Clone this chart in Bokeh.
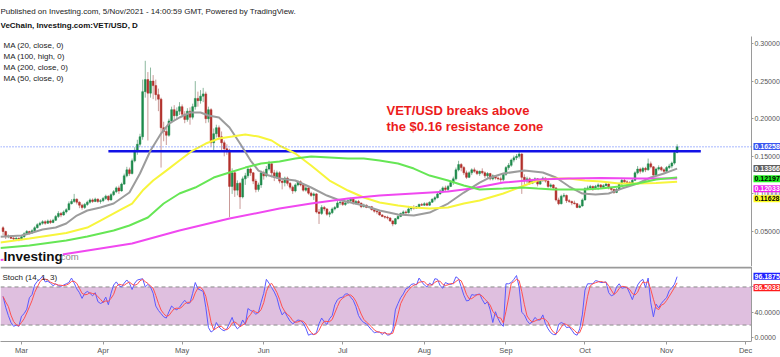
import pandas as pd
from bokeh.plotting import figure
from bokeh.layouts import column
from bokeh.models import (Range1d, FixedTicker, NumeralTickFormatter, Label, Span,
                          BoxAnnotation, MonthsTicker, DatetimeTickFormatter, ColumnDataSource)
from bokeh.embed import file_html
from bokeh.resources import INLINE

# ---------------- data (daily VET/USD, 2021-02-22 .. 2021-11-05) ----------------
first_open = 0.055
close = [
    # Feb 22-28
    0.050, 0.043, 0.044, 0.041, 0.040, 0.041, 0.039,
    # Mar
    0.043, 0.047, 0.050, 0.048, 0.051, 0.055, 0.059, 0.061, 0.063, 0.061,
    0.064, 0.062, 0.065, 0.070, 0.074, 0.072, 0.076, 0.079, 0.087, 0.090,
    0.093, 0.089, 0.085, 0.082, 0.086, 0.089, 0.092, 0.090, 0.093, 0.090, 0.091,
    # Apr
    0.094, 0.097, 0.092, 0.099, 0.103, 0.108, 0.104, 0.113, 0.124, 0.132,
    0.127, 0.144, 0.158, 0.166, 0.176, 0.236, 0.252, 0.234, 0.250, 0.244,
    0.232, 0.226, 0.188, 0.183, 0.178, 0.197, 0.212, 0.204, 0.210, 0.216,
    # May
    0.206, 0.199, 0.210, 0.202, 0.216, 0.227, 0.224, 0.230, 0.233, 0.200,
    0.212, 0.168, 0.180, 0.188, 0.176, 0.168, 0.160, 0.158, 0.110, 0.128,
    0.105, 0.114, 0.096, 0.120, 0.124, 0.133, 0.128, 0.117, 0.106, 0.112, 0.128,
    # Jun
    0.124, 0.133, 0.140, 0.128, 0.122, 0.128, 0.117, 0.115, 0.121, 0.114,
    0.109, 0.104, 0.112, 0.116, 0.112, 0.105, 0.108, 0.101, 0.098, 0.100,
    0.076, 0.074, 0.082, 0.080, 0.073, 0.075, 0.080, 0.082, 0.088, 0.089,
    # Jul
    0.086, 0.088, 0.091, 0.093, 0.087, 0.090, 0.088, 0.083, 0.085, 0.082,
    0.083, 0.079, 0.077, 0.076, 0.072, 0.070, 0.069, 0.068, 0.064, 0.060,
    0.067, 0.070, 0.074, 0.076, 0.075, 0.080, 0.082, 0.081, 0.083, 0.086, 0.085,
    # Aug
    0.087, 0.085, 0.089, 0.093, 0.095, 0.100, 0.104, 0.108, 0.106, 0.110,
    0.115, 0.120, 0.132, 0.139, 0.135, 0.128, 0.122, 0.128, 0.132, 0.130,
    0.127, 0.130, 0.128, 0.124, 0.127, 0.120, 0.124, 0.121, 0.120, 0.119, 0.126,
    # Sep
    0.135, 0.138, 0.145, 0.148, 0.150, 0.153, 0.122, 0.117, 0.120, 0.114,
    0.118, 0.120, 0.113, 0.118, 0.121, 0.117, 0.110, 0.112, 0.108, 0.092,
    0.087, 0.097, 0.098, 0.091, 0.090, 0.088, 0.087, 0.082, 0.084, 0.092,
    # Oct
    0.107, 0.108, 0.110, 0.107, 0.110, 0.112, 0.109, 0.111, 0.113, 0.108,
    0.106, 0.102, 0.106, 0.113, 0.118, 0.116, 0.115, 0.114, 0.118, 0.128,
    0.133, 0.130, 0.134, 0.132, 0.140, 0.136, 0.125, 0.133, 0.135, 0.132, 0.130,
    # Nov 1-5
    0.135, 0.137, 0.141, 0.155, 0.16258,
]
high = [
    0.057, 0.051, 0.046, 0.045, 0.043, 0.043, 0.042,
    0.044, 0.049, 0.052, 0.051, 0.053, 0.057, 0.061, 0.063, 0.065, 0.065,
    0.066, 0.066, 0.067, 0.072, 0.077, 0.076, 0.078, 0.081, 0.090, 0.093,
    0.100, 0.094, 0.090, 0.087, 0.088, 0.091, 0.094, 0.094, 0.095, 0.094, 0.093,
    0.096, 0.099, 0.098, 0.101, 0.105, 0.110, 0.111, 0.115, 0.127, 0.136,
    0.135, 0.147, 0.162, 0.172, 0.180, 0.252, 0.277, 0.262, 0.268, 0.258,
    0.252, 0.240, 0.228, 0.196, 0.190, 0.200, 0.216, 0.218, 0.215, 0.222,
    0.219, 0.210, 0.214, 0.215, 0.220, 0.250, 0.236, 0.238, 0.241, 0.236,
    0.216, 0.214, 0.187, 0.192, 0.191, 0.183, 0.171, 0.166, 0.160, 0.134,
    0.130, 0.118, 0.116, 0.123, 0.128, 0.136, 0.135, 0.129, 0.120, 0.115, 0.131,
    0.131, 0.137, 0.144, 0.141, 0.132, 0.131, 0.130, 0.119, 0.123, 0.123,
    0.116, 0.111, 0.114, 0.118, 0.118, 0.113, 0.111, 0.109, 0.103, 0.102,
    0.101, 0.080, 0.085, 0.084, 0.081, 0.077, 0.082, 0.084, 0.091, 0.092,
    0.090, 0.090, 0.093, 0.095, 0.094, 0.092, 0.092, 0.088, 0.087, 0.086,
    0.084, 0.084, 0.080, 0.078, 0.077, 0.073, 0.071, 0.071, 0.069, 0.065,
    0.068, 0.072, 0.075, 0.078, 0.078, 0.084, 0.083, 0.085, 0.084, 0.087, 0.088,
    0.089, 0.089, 0.090, 0.094, 0.097, 0.102, 0.106, 0.110, 0.111, 0.112,
    0.118, 0.123, 0.135, 0.144, 0.141, 0.137, 0.131, 0.130, 0.134, 0.135,
    0.132, 0.131, 0.134, 0.130, 0.129, 0.128, 0.126, 0.125, 0.123, 0.123, 0.128,
    0.137, 0.141, 0.147, 0.151, 0.153, 0.156, 0.154, 0.126, 0.123, 0.122,
    0.120, 0.122, 0.121, 0.120, 0.123, 0.122, 0.118, 0.114, 0.113, 0.109,
    0.095, 0.099, 0.101, 0.099, 0.093, 0.091, 0.091, 0.088, 0.086, 0.094,
    0.109, 0.111, 0.112, 0.111, 0.112, 0.114, 0.113, 0.113, 0.115, 0.114,
    0.109, 0.107, 0.108, 0.115, 0.120, 0.120, 0.118, 0.117, 0.120, 0.130,
    0.137, 0.135, 0.136, 0.136, 0.147, 0.143, 0.137, 0.135, 0.138, 0.137, 0.134,
    0.137, 0.140, 0.143, 0.157, 0.166,
]
low = [
    0.045, 0.040, 0.041, 0.040, 0.038, 0.039, 0.037,
    0.039, 0.042, 0.046, 0.046, 0.047, 0.050, 0.054, 0.057, 0.059, 0.059,
    0.060, 0.060, 0.061, 0.064, 0.068, 0.069, 0.071, 0.074, 0.078, 0.086,
    0.088, 0.086, 0.081, 0.079, 0.080, 0.084, 0.087, 0.088, 0.089, 0.088, 0.087,
    0.089, 0.092, 0.090, 0.091, 0.097, 0.101, 0.100, 0.103, 0.112, 0.122,
    0.124, 0.126, 0.142, 0.152, 0.163, 0.172, 0.228, 0.171, 0.228, 0.226,
    0.224, 0.210, 0.135, 0.170, 0.165, 0.176, 0.194, 0.198, 0.199, 0.205,
    0.202, 0.194, 0.196, 0.192, 0.199, 0.212, 0.216, 0.220, 0.222, 0.194,
    0.195, 0.163, 0.158, 0.175, 0.172, 0.158, 0.150, 0.152, 0.069, 0.100,
    0.096, 0.098, 0.080, 0.094, 0.112, 0.121, 0.124, 0.113, 0.102, 0.103, 0.108,
    0.119, 0.122, 0.131, 0.122, 0.117, 0.120, 0.114, 0.106, 0.110, 0.111,
    0.106, 0.100, 0.102, 0.110, 0.110, 0.103, 0.103, 0.099, 0.096, 0.092,
    0.074, 0.060, 0.072, 0.077, 0.071, 0.069, 0.073, 0.078, 0.081, 0.085,
    0.084, 0.084, 0.087, 0.089, 0.086, 0.086, 0.086, 0.081, 0.082, 0.081,
    0.081, 0.078, 0.075, 0.073, 0.071, 0.069, 0.067, 0.066, 0.063, 0.057,
    0.059, 0.066, 0.069, 0.073, 0.073, 0.074, 0.077, 0.079, 0.080, 0.081, 0.084,
    0.084, 0.084, 0.084, 0.088, 0.090, 0.094, 0.099, 0.101, 0.103, 0.104,
    0.109, 0.112, 0.118, 0.130, 0.130, 0.125, 0.120, 0.121, 0.125, 0.128,
    0.125, 0.124, 0.126, 0.121, 0.120, 0.118, 0.118, 0.119, 0.118, 0.116, 0.117,
    0.124, 0.132, 0.136, 0.142, 0.145, 0.147, 0.100, 0.112, 0.114, 0.112,
    0.113, 0.115, 0.110, 0.112, 0.116, 0.115, 0.108, 0.108, 0.106, 0.090,
    0.085, 0.086, 0.095, 0.088, 0.088, 0.085, 0.086, 0.081, 0.081, 0.083,
    0.091, 0.105, 0.106, 0.104, 0.106, 0.105, 0.107, 0.108, 0.110, 0.106,
    0.104, 0.100, 0.101, 0.105, 0.111, 0.114, 0.112, 0.111, 0.113, 0.117,
    0.126, 0.127, 0.128, 0.129, 0.131, 0.134, 0.122, 0.124, 0.131, 0.130, 0.128,
    0.129, 0.133, 0.134, 0.139, 0.154,
]

ma20_dates = ["2021-02-21", "2021-03-01", "2021-03-04", "2021-03-09", "2021-03-14", "2021-03-18",
              "2021-03-22", "2021-03-26", "2021-03-31", "2021-04-05", "2021-04-11", "2021-04-15",
              "2021-04-19", "2021-04-23", "2021-04-26", "2021-04-30", "2021-05-04", "2021-05-08",
              "2021-05-11", "2021-05-15", "2021-05-19", "2021-05-23", "2021-05-27", "2021-05-30",
              "2021-06-03", "2021-06-07", "2021-06-13", "2021-06-19", "2021-06-25", "2021-06-29",
              "2021-07-04", "2021-07-09", "2021-07-15", "2021-07-22", "2021-07-28", "2021-08-03",
              "2021-08-10", "2021-08-16", "2021-08-22", "2021-08-25", "2021-08-31", "2021-09-08",
              "2021-09-15", "2021-09-20", "2021-09-25", "2021-09-30", "2021-10-05", "2021-10-10",
              "2021-10-15", "2021-10-21", "2021-10-26", "2021-10-31", "2021-11-05"]
ma20_vals = [0.043, 0.0446, 0.0473, 0.0526, 0.0553, 0.0606, 0.0712, 0.0779, 0.0819, 0.0872,
             0.1018, 0.1271, 0.1577, 0.1803, 0.1936, 0.2016, 0.2082, 0.2082, 0.2042, 0.2016,
             0.1883, 0.167, 0.1444, 0.131, 0.1244, 0.1204, 0.1178, 0.1085, 0.0978, 0.0925,
             0.0885, 0.0845, 0.0779, 0.0726, 0.0712, 0.0752, 0.0872, 0.1018, 0.1151, 0.1204,
             0.1271, 0.131, 0.1284, 0.1218, 0.1098, 0.1005, 0.0992, 0.1005, 0.1071, 0.1138,
             0.1218, 0.1271, 0.13366]

ma100_dates = ["2021-02-21", "2021-03-04", "2021-03-18", "2021-03-26", "2021-03-31", "2021-04-07",
               "2021-04-12", "2021-04-16", "2021-04-20", "2021-04-25", "2021-04-30", "2021-05-05",
               "2021-05-10", "2021-05-15", "2021-05-20", "2021-05-25", "2021-05-30", "2021-06-04",
               "2021-06-07", "2021-06-13", "2021-06-19", "2021-06-26", "2021-07-03", "2021-07-09",
               "2021-07-15", "2021-07-22", "2021-07-28", "2021-08-03", "2021-08-10", "2021-08-16",
               "2021-08-22", "2021-08-31", "2021-09-07", "2021-09-13", "2021-09-19", "2021-09-25",
               "2021-10-01", "2021-10-07", "2021-10-14", "2021-10-21", "2021-10-28", "2021-11-05"]
ma100_vals = [0.0353, 0.0407, 0.048, 0.0553, 0.0646, 0.0779, 0.0872, 0.1045, 0.1178, 0.131,
              0.1444, 0.1577, 0.167, 0.1737, 0.1763, 0.179, 0.1763, 0.171, 0.1643, 0.1537,
              0.1377, 0.1178, 0.1045, 0.0952, 0.0885, 0.0845, 0.0819, 0.0805, 0.0819, 0.0872,
              0.0912, 0.1005, 0.1098, 0.1178, 0.1204, 0.1204, 0.1178, 0.1165, 0.1138, 0.1138,
              0.1145, 0.11628]

ma200_dates = ["2021-02-21", "2021-03-14", "2021-03-31", "2021-04-12", "2021-04-30", "2021-05-19",
               "2021-06-07", "2021-06-19", "2021-07-03", "2021-07-15", "2021-07-28", "2021-08-10",
               "2021-08-19", "2021-08-31", "2021-09-13", "2021-09-25", "2021-10-07", "2021-10-21",
               "2021-11-05"]
ma200_vals = [0.012, 0.018, 0.0274, 0.034, 0.0513, 0.0672, 0.0805, 0.0872, 0.0938, 0.0978,
              0.1005, 0.1032, 0.1071, 0.1151, 0.1191, 0.1204, 0.1210, 0.1205, 0.12033]

ma50_dates = ["2021-02-21", "2021-03-04", "2021-03-18", "2021-03-26", "2021-04-05", "2021-04-11",
              "2021-04-18", "2021-04-24", "2021-04-30", "2021-05-06", "2021-05-13", "2021-05-19",
              "2021-05-25", "2021-05-31", "2021-06-07", "2021-06-13", "2021-06-19", "2021-06-26",
              "2021-07-03", "2021-07-09", "2021-07-15", "2021-07-22", "2021-07-28", "2021-08-03",
              "2021-08-10", "2021-08-16", "2021-08-22", "2021-08-31", "2021-09-07", "2021-09-13",
              "2021-09-19", "2021-09-25", "2021-10-01", "2021-10-07", "2021-10-14", "2021-10-21",
              "2021-10-28", "2021-11-05"]
ma50_vals = [0.028, 0.0313, 0.038, 0.0433, 0.0513, 0.058, 0.0686, 0.0872, 0.1005, 0.1085,
             0.1218, 0.1284, 0.135, 0.1404, 0.143, 0.147, 0.1497, 0.1484, 0.147, 0.147,
             0.1444, 0.1404, 0.1337, 0.1244, 0.1178, 0.1111, 0.1058, 0.1071, 0.1085, 0.1071,
             0.1058, 0.1058, 0.1058, 0.1071, 0.1098, 0.1138, 0.1191, 0.12197]

resistance_level = 0.1568
resistance_start = "2021-04-03"
resistance_end = "2021-11-14"

# Stochastic %K (14,1), one value per day
stoch_k = [
    65, 48, 35, 24, 18, 20, 18,
    34, 38, 45, 63, 68, 83, 89, 92, 97, 88, 89, 86, 82, 85, 82, 81, 83, 85, 87, 94,
    86, 77, 71, 62, 70, 73, 70, 66, 71, 57, 54,
    56, 64, 52, 70, 83, 88, 82, 80, 86, 91, 86, 76, 86, 91, 92, 93, 80, 84, 80, 70,
    50, 43, 38, 33, 31, 41, 50, 46, 44, 48,
    54, 59, 54, 55, 70, 87, 77, 75, 73, 48, 16, 9, 12, 24, 17, 13, 11, 14, 23, 32,
    20, 14, 18, 28, 21, 46, 43, 41, 37, 40, 56,
    70, 92, 86, 79, 72, 63, 47, 36, 41, 33, 26, 22, 25, 28, 27, 23, 15, 4, 6, 5,
    8, 22, 31, 25, 21, 30, 35, 52, 60, 63,
    64, 69, 69, 64, 59, 49, 35, 28, 24, 22, 17, 12, 8, 9, 9, 5, 9, 4, 5, 12,
    44, 54, 63, 69, 77, 79, 84, 85, 83, 94, 88,
    83, 80, 86, 83, 93, 92, 82, 78, 87, 85, 84, 86, 96, 93, 80, 67, 58, 59, 68, 67,
    68, 69, 60, 53, 57, 44, 24, 41, 30, 22, 18,
    85, 85, 87, 92, 98, 80, 40, 36, 27, 22, 25, 32, 28, 28, 36, 22, 14, 8, 5, 5,
    21, 24, 22, 16, 17, 12, 6, 4, 14, 36,
    75, 85, 85, 85, 90, 89, 87, 87, 88, 71, 66, 68, 80, 85, 78, 79, 79, 70, 60, 72,
    83, 89, 92, 79, 94, 55, 33, 53, 47, 54, 59,
    63, 74, 79, 84.3224, 96.1875,
]
stoch_band = [20, 80]

price_ticks = [0.05, 0.10, 0.15, 0.20, 0.25, 0.30]
stoch_ticks = [0, 40, 80]

# ---------------- derived ----------------
dates = pd.date_range("2021-02-22", periods=len(close), freq="D")
opens = [first_open] + close[:-1]
up = [c >= o for o, c in zip(opens, close)]
stoch_d = pd.Series(stoch_k).rolling(3, min_periods=1).mean().tolist()

UP_BODY, UP_WICK = "#1f8a4c", "#8cb89e"
DN_BODY, DN_WICK = "#b3312c", "#c99a98"
src = ColumnDataSource(dict(
    x=dates, top=[max(o, c) for o, c in zip(opens, close)],
    bottom=[min(o, c) for o, c in zip(opens, close)],
    high=high, low=low,
    body=[UP_BODY if u else DN_BODY for u in up],
    wick=[UP_WICK if u else DN_WICK for u in up],
))

# ---------------- geometry helpers (pixel layout of the page) ----------------
DAY = 86400000.0
PX_DAY = 2.633
MAR1 = pd.Timestamp("2021-03-01").value / 1e6
X_START = MAR1 - 21 / PX_DAY * DAY
X_END = X_START + 780 / PX_DAY * DAY
PPX = 0.05 / 37.6                 # price per pixel
Y_TOP = 0.30 + 43 * PPX           # value at page y = 0
Y_BOT = Y_TOP - 266 * PPX         # value at page y = 266
S_PPX = 0.6433
S_TOP = (338.2 - 266) / S_PPX
S_BOT = (338.2 - 342) / S_PPX


def xpx(px):
    return X_START + px / PX_DAY * DAY


def ypx(py):
    return Y_TOP - py * PPX


def spx(py):
    return (338.2 - py) / S_PPX


AXIS_X = xpx(751)
FONT = "Liberation Sans"
TICK_FS = "7px"


def style_axis(a):
    a.major_label_text_font = FONT
    a.major_label_text_font_size = TICK_FS
    a.major_label_text_color = "#555555"
    a.axis_line_color = "#9a9a9a"
    a.major_tick_line_color = "#9a9a9a"
    a.major_tick_out = 2
    a.major_tick_in = 0
    a.minor_tick_out = 0
    a.minor_tick_in = 0
    a.major_label_standoff = 1


def lab(fig, x, y, text, size="8px", color="#222222", bold=False, **kw):
    fig.add_layout(Label(x=x, y=y, text=text, text_font=FONT, text_font_size=size,
                         text_color=color, text_baseline=kw.pop("baseline", "middle"),
                         text_font_style="bold" if bold else "normal", **kw))


# ---------------- main pane ----------------
p1 = figure(width=780, height=266, x_axis_type="datetime", x_axis_location=None,
            y_axis_location="right", x_range=Range1d(X_START, X_END),
            y_range=Range1d(Y_BOT, Y_TOP), output_backend="svg", toolbar_location=None,
            title=None, min_border_top=0, min_border_bottom=0, min_border_left=0,
            min_border_right=0)
p1.grid.visible = False
p1.outline_line_color = None
ax = p1.yaxis[0]
ax.fixed_location = AXIS_X
ax.bounds = (Y_BOT, ypx(36))
ax.ticker = FixedTicker(ticks=price_ticks)
ax.formatter = NumeralTickFormatter(format="0.00000")
style_axis(ax)

p1.add_layout(Span(location=close[-1], dimension="width", line_color="#4f6fff",
                   line_dash="1 2", line_width=1))

p1.segment(x0="x", y0="low", x1="x", y1="high", line_color="wick", line_width=1, source=src)
p1.vbar(x="x", width=0.7 * DAY, top="top", bottom="bottom", fill_color="body",
        line_color="body", line_width=0.5, source=src)

p1.segment(x0=[pd.Timestamp(resistance_start)], x1=[pd.Timestamp(resistance_end)],
           y0=[resistance_level], y1=[resistance_level], line_color="#1212e6", line_width=2.5)

p1.line(pd.to_datetime(ma20_dates), ma20_vals, line_color="#9c9c9c", line_width=2)
p1.line(pd.to_datetime(ma100_dates), ma100_vals, line_color="#f7f53c", line_width=2)
p1.line(pd.to_datetime(ma200_dates), ma200_vals, line_color="#f048f0", line_width=2)
p1.line(pd.to_datetime(ma50_dates), ma50_vals, line_color="#66e655", line_width=2)

lab(p1, xpx(0), ypx(11), "Published on Investing.com, 5/Nov/2021 - 14:00:59 GMT, Powered by TradingView.")
lab(p1, xpx(0), ypx(25), "VeChain, Investing.com:VET/USD, D", bold=True, color="#111111")
for i, t in enumerate(["MA (20, close, 0)", "MA (100, high, 0)", "MA (200, close, 0)", "MA (50, close, 0)"]):
    lab(p1, xpx(3), ypx(45 + 11.1 * i), t)

lab(p1, xpx(386), ypx(110), "VET/USD breaks above", size="13px", color="#ec1c1c", bold=True)
lab(p1, xpx(386), ypx(125.5), "the $0.16 resistance zone", size="13px", color="#ec1c1c", bold=True)

lab(p1, xpx(3), ypx(256), "Investing", size="13.5px", color="#111111", bold=True,
    baseline="alphabetic", background_fill_color="white")
lab(p1, xpx(57.5), ypx(256), ".com", size="9.5px", color="#8a8a8a", baseline="alphabetic")

# price tags on the right axis
tags = [
    (146, close[-1], "#3a55f0", "white"),
    (168, ma20_vals[-1], "#5f5f5f", "white"),
    (178.3, ma50_vals[-1], "#22ee22", "black"),
    (188.3, ma200_vals[-1], "#f020f0", "white"),
    (198.3, ma100_vals[-1], "#ffff22", "black"),
]
for py, v, bg, fg in tags:
    lab(p1, xpx(753), ypx(py), f"{v:.5f}", size=TICK_FS, color=fg, bold=True,
        background_fill_color=bg, padding=1)

# ---------------- stochastic pane ----------------
p2 = figure(width=780, height=91, x_axis_type="datetime", y_axis_location="right",
            x_range=p1.x_range, y_range=Range1d(S_BOT, S_TOP), output_backend="svg",
            toolbar_location=None, title=None, min_border_top=0, min_border_bottom=0,
            min_border_left=0, min_border_right=0)
p2.grid.visible = False
p2.outline_line_color = None
p2.add_layout(BoxAnnotation(bottom=stoch_band[0], top=stoch_band[1], right=AXIS_X,
                            fill_color="#dfbfdf", fill_alpha=1.0, line_color=None,
                            level="underlay"))
p2.segment(x0=[X_START, X_START], x1=[AXIS_X, AXIS_X], y0=stoch_band, y1=stoch_band,
           line_color="#8c8c8c", line_dash="4 3", line_width=1)
p2.segment(x0=[X_START], x1=[AXIS_X], y0=[S_TOP - 1 / S_PPX], y1=[S_TOP - 1 / S_PPX],
           line_color="#9a9a9a", line_width=2)

p2.line(dates, stoch_k, line_color="#5a5aff", line_width=1)
p2.line(dates, stoch_d, line_color="#ff5050", line_width=1)

ay = p2.yaxis[0]
ay.fixed_location = AXIS_X
ay.ticker = FixedTicker(ticks=stoch_ticks)
ay.formatter = NumeralTickFormatter(format="0.0000")
ax2 = p2.xaxis[0]
ax2.bounds = (X_START, AXIS_X)
ax2.ticker = MonthsTicker(months=list(range(12)))
ax2.formatter = DatetimeTickFormatter(months="%b", days="%b")
style_axis(ay)
style_axis(ax2)
ax2.major_label_text_font_size = "7.5px"
ax2.major_tick_out = 3

lab(p2, xpx(2), spx(277), "Stoch (14, 1, 3)")
lab(p2, xpx(753), spx(276), f"{stoch_k[-1]:.4f}", size=TICK_FS, color="white", bold=True,
    background_fill_color="#2020ff", padding=1)
lab(p2, xpx(753), spx(287.5), f"{stoch_d[-1]:.4f}", size=TICK_FS, color="white", bold=True,
    background_fill_color="#ff1a1a", padding=1)

layout = column(p1, p2, spacing=0)
open("out.html", "w").write(file_html(layout, INLINE))
